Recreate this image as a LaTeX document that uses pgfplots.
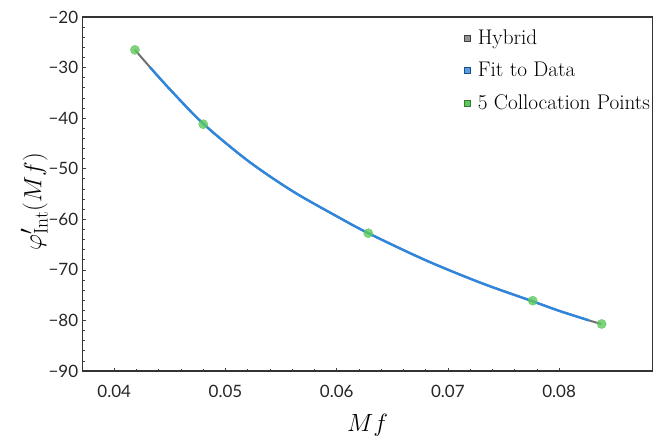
\documentclass[border=0pt]{standalone}
\usepackage{fontspec}
\newfontfamily\tickfont{Lato}
\usepackage{pgfplots}
\pgfplotsset{compat=1.18}
\definecolor{hyb}{HTML}{707070}
\definecolor{fitblue}{HTML}{2E86DE}
\definecolor{colgreen}{HTML}{5CC95C}
\begin{document}
\begin{tikzpicture}[x=1pt,y=1pt]
\useasboundingbox (0,0) rectangle (653,437);
\begin{axis}[
  at={(82.7pt,66pt)}, anchor=south west, scale only axis,
  width=569.8pt, height=354pt,
  xmin=0.03716, xmax=0.0884, ymin=-90, ymax=-20,
  axis line style={line width=1.1pt, color=black!80},
  xtick={0.04,0.05,0.06,0.07,0.08},
  xticklabels={0.04,0.05,0.06,0.07,0.08},
  ytick={-90,-80,-70,-60,-50,-40,-30,-20},
  yticklabels={−90,−80,−70,−60,−50,−40,−30,−20},
  scaled x ticks=false,
  minor x tick num=4, minor y tick num=4,
  tick align=inside, xtick pos=bottom, ytick pos=left,
  major tick length=3pt, minor tick length=1.8pt,
  tick style={black!75, line width=0.7pt},
  ticklabel style={font=\tickfont\fontsize{17}{20}\selectfont, text=black!85},
  xticklabel style={yshift=-11pt},
  yticklabel style={xshift=-1pt},
  xlabel={$Mf$},
  xlabel style={font=\fontsize{24}{28}\selectfont, at={(axis description cs:0.5,-0.17)}, anchor=base},
  ylabel={$\varphi'_{\mathrm{Int}}(Mf)$},
  ylabel style={font=\fontsize{28}{32}\selectfont, at={(axis description cs:-0.085,0.478)}, anchor=center, rotate=0},
  legend style={at={(axis description cs:0.666,0.976)}, anchor=north west, draw=none, fill=none,
    font=\fontsize{21.2}{25}\selectfont, row sep=12.5pt, inner sep=2pt,
    /tikz/every odd column/.append style={column sep=5pt}},
  legend cell align=left,
]
\addplot[hyb, line width=2pt, smooth, forget plot] coordinates {
(0.04186,-26.5) (0.0432,-29.9) (0.0450,-34.3) (0.0480,-41.1) (0.0520,-48.4)
(0.0560,-54.4) (0.0600,-59.4) (0.0628,-62.7) (0.0680,-68.1) (0.0730,-72.6)
(0.0776,-76.2) (0.0800,-78.1) (0.0827,-80.0) (0.0838,-80.7)};
\addplot[fitblue, line width=2.4pt, smooth, forget plot] coordinates {
(0.0432,-29.9) (0.0450,-34.3) (0.0480,-41.1) (0.0520,-48.4)
(0.0560,-54.4) (0.0600,-59.4) (0.0628,-62.7) (0.0680,-68.1) (0.0730,-72.6)
(0.0776,-76.2) (0.0800,-78.1) (0.0827,-80.0)};
\addplot[only marks, mark=*, mark size=4.6pt, color=colgreen, opacity=0.8, forget plot] coordinates {
(0.04186,-26.5) (0.0480,-41.2) (0.06284,-62.75) (0.07763,-76.1) (0.08383,-80.7)};
\addlegendimage{legend image code/.code={\draw[fill=gray!85, draw=gray!50!black, line width=0.4pt] (0pt,-3pt) rectangle (6pt,3pt);}}
\addlegendentry{Hybrid}
\addlegendimage{legend image code/.code={\draw[fill=fitblue!80, draw=fitblue!60!black, line width=0.4pt] (0pt,-3pt) rectangle (6pt,3pt);}}
\addlegendentry{Fit to Data}
\addlegendimage{legend image code/.code={\draw[fill=colgreen, draw=colgreen!60!black, line width=0.4pt] (0pt,-3pt) rectangle (6pt,3pt);}}
\addlegendentry{5 Collocation Points}
\end{axis}
\end{tikzpicture}
\end{document}
